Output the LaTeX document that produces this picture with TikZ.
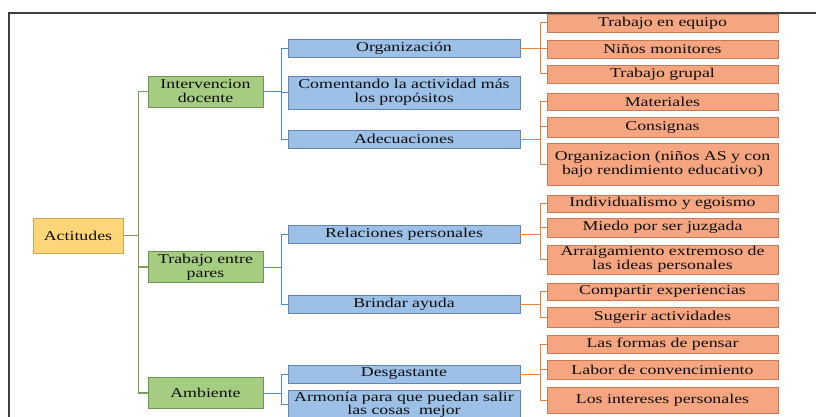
\documentclass[tikz,border=0pt]{standalone}
\usepackage{fontspec}
\setmainfont{Liberation Serif}[FakeStretch=1.32]
\usetikzlibrary{positioning}
\definecolor{rootfill}{RGB}{254,214,122}
\definecolor{rootdraw}{RGB}{205,165,85}
\definecolor{greenfill}{RGB}{166,204,130}
\definecolor{greendraw}{RGB}{112,150,84}
\definecolor{bluefill}{RGB}{156,192,230}
\definecolor{bluedraw}{RGB}{98,132,176}
\definecolor{orangefill}{RGB}{245,166,128}
\definecolor{orangedraw}{RGB}{200,122,84}
\definecolor{greenline}{RGB}{126,156,86}
\definecolor{blueline}{RGB}{82,136,196}
\definecolor{orangeline}{RGB}{232,132,62}

\begin{document}
\begin{tikzpicture}[x=1pt, y=-1pt,
  box/.style={draw, line width=0.8pt, inner sep=1pt, align=center, text=black!95, font=\fontsize{13.5}{14}\selectfont},
  rootbox/.style={box, draw=rootdraw, fill=rootfill, minimum width=90pt, minimum height=35pt},
  greenbox/.style={box, draw=greendraw, fill=greenfill, minimum width=115pt, minimum height=31pt},
  bluebox/.style={box, draw=bluedraw, fill=bluefill, minimum width=232pt, minimum height=18pt},
  orangebox/.style={box, draw=orangedraw, fill=orangefill, minimum width=231pt, minimum height=18pt},
  framelink/.style={draw=black!75, line width=1.3pt},
  greenlink/.style={draw=greenline, line width=1.2pt},
  bluelink/.style={draw=blueline, line width=1pt},
  orangelink/.style={draw=orangeline, line width=1pt}
]
\useasboundingbox (0,0) rectangle (816,417);
\clip (0,0) rectangle (816,417);

\draw[framelink] (9,417) -- (9,13) -- (816,13);

\node[rootbox] (nact) at (78,235.5) {Actitudes};
\node[greenbox] (nint) at (205.5,91.5) {Intervencion\\docente};
\node[greenbox] (ntrab) at (205.5,267) {Trabajo entre\\pares};
\node[greenbox] (namb) at (205.5,393) {Ambiente};
\node[bluebox] (norg) at (404,48.5) {Organización};
\node[bluebox, minimum height=33pt] (ncoment) at (404,92.5) {Comentando la actividad más\\los propósitos};
\node[bluebox] (nadec) at (404,139) {Adecuaciones};
\node[bluebox] (nrel) at (404,234) {Relaciones personales};
\node[bluebox] (nbri) at (404,304) {Brindar ayuda};
\node[bluebox] (ndes) at (404,374) {Desgastante};
\node[bluebox, minimum height=28pt, font=\fontsize{13.5}{12.5}\selectfont] (narm) at (404,404.5) {Armonía para que puedan salir\\las cosas~ mejor};
\node[orangebox] (nequ) at (662.5,23) {Trabajo en equipo};
\node[orangebox] (nmon) at (662.5,49) {Niños monitores};
\node[orangebox] (ngru) at (662.5,74) {Trabajo grupal};
\node[orangebox, minimum height=17pt] (nmat) at (662.5,101.5) {Materiales};
\node[orangebox, minimum height=20pt] (ncons) at (662.5,127) {Consignas};
\node[orangebox, minimum height=42pt] (norgz) at (662.5,164) {Organizacion (niños AS y con\\bajo rendimiento educativo)};
\node[orangebox, minimum height=17pt] (nind) at (662.5,203.5) {Individualismo y egoismo};
\node[orangebox, minimum height=19pt] (nmie) at (662.5,227.5) {Miedo por ser juzgada};
\node[orangebox, minimum height=29pt] (narr) at (662.5,259.5) {Arraigamiento extremoso de\\las ideas personales};
\node[orangebox, minimum height=17pt] (ncomp) at (662.5,291.5) {Compartir experiencias};
\node[orangebox, minimum height=20pt] (nsug) at (662.5,317) {Sugerir actividades};
\node[orangebox] (nfor) at (662.5,344) {Las formas de pensar};
\node[orangebox, minimum height=19pt] (nlab) at (662.5,369.5) {Labor de convencimiento};
\node[orangebox, minimum height=26pt] (nintp) at (662.5,400) {Los intereses personales};

\draw[greenlink] (nact.east) -- ++(15,0) |- (nint.west);
\draw[greenlink] (nact.east) -- ++(15,0) |- (ntrab.west);
\draw[greenlink] (nact.east) -- ++(15,0) |- (namb.west);
\draw[bluelink] (nint.east) -- ++(18,0) |- (norg.west);
\draw[bluelink] (nint.east) -- ++(18,0) |- (ncoment.west);
\draw[bluelink] (nint.east) -- ++(18,0) |- (nadec.west);
\draw[bluelink] (ntrab.east) -- ++(18,0) |- (nrel.west);
\draw[bluelink] (ntrab.east) -- ++(18,0) |- (nbri.west);
\draw[bluelink] (namb.east) -- ++(18,0) |- (ndes.west);
\draw[bluelink] (namb.east) -- ++(18,0) |- (narm.west);
\draw[orangelink] (norg.east) -- ++(20,0) |- (nequ.west);
\draw[orangelink] (norg.east) -- ++(20,0) |- (nmon.west);
\draw[orangelink] (norg.east) -- ++(20,0) |- (ngru.west);
\draw[orangelink] (nadec.east) -- ++(20,0) |- (nmat.west);
\draw[orangelink] (nadec.east) -- ++(20,0) |- (ncons.west);
\draw[orangelink] (nadec.east) -- ++(20,0) |- (norgz.west);
\draw[orangelink] (nrel.east) -- ++(20,0) |- (nind.west);
\draw[orangelink] (nrel.east) -- ++(20,0) |- (nmie.west);
\draw[orangelink] (nrel.east) -- ++(20,0) |- (narr.west);
\draw[orangelink] (nbri.east) -- ++(20,0) |- (ncomp.west);
\draw[orangelink] (nbri.east) -- ++(20,0) |- (nsug.west);
\draw[orangelink] (ndes.east) -- ++(20,0) |- (nfor.west);
\draw[orangelink] (ndes.east) -- ++(20,0) |- (nlab.west);
\draw[orangelink] (ndes.east) -- ++(20,0) |- (nintp.west);

\end{tikzpicture}
\end{document}
